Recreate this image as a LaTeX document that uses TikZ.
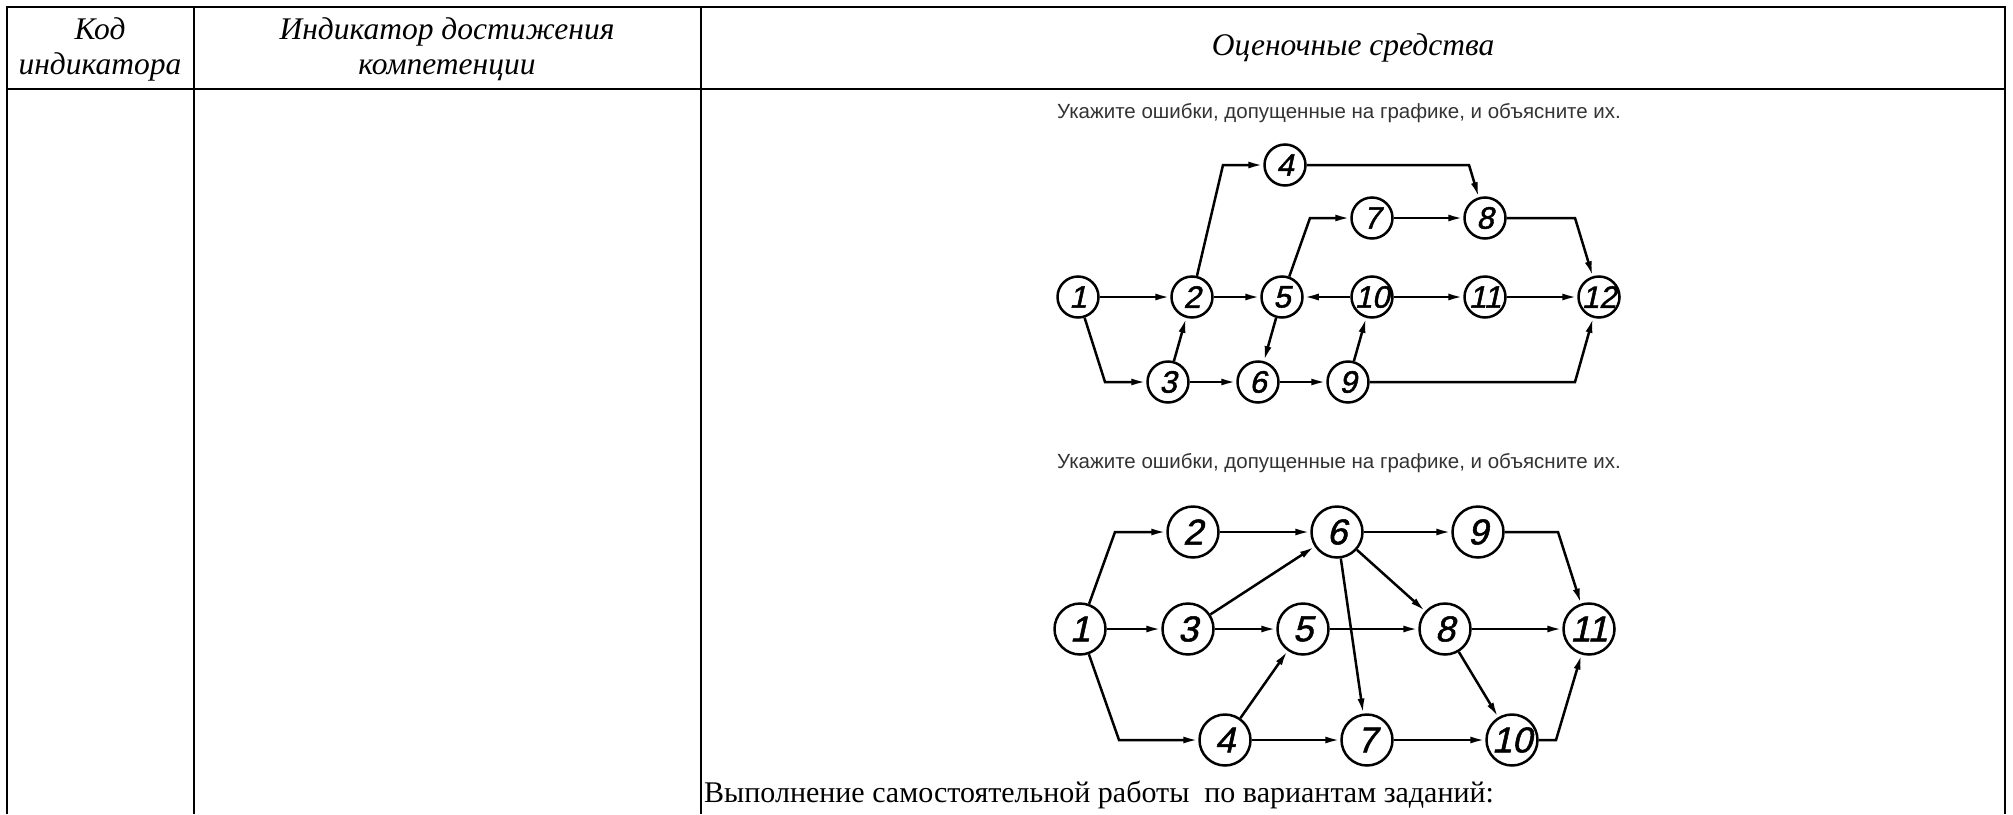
\documentclass[tikz,border=0pt]{standalone}
\usepackage{fontspec}
\setmainfont{Liberation Serif}
\setsansfont{Liberation Sans}
\newfontfamily\gostfont[FakeSlant=0.22,FakeBold=1.5]{Liberation Sans}
\usetikzlibrary{arrows.meta}

\begin{document}
\begin{tikzpicture}[x=1pt,y=-1pt,
    >={Latex[length=15pt,width=7pt]},
    grid/.style={line width=2.4pt,line join=miter},
    hdr/.style={font=\itshape\fontsize{31.5}{35}\selectfont,align=center},
    task/.style={font=\sffamily\fontsize{20.5}{20.5}\selectfont,text=black!80},
    ev/.style={draw,circle,line width=2.5pt,inner sep=0pt,minimum size=41pt,
      font=\gostfont\fontsize{31}{31}\selectfont},
    evb/.style={ev,minimum size=51pt,font=\gostfont\fontsize{36}{36}\selectfont},
    act/.style={->,line width=2.5pt}]
    \useasboundingbox (0,0) rectangle (2013,814);
    % table
    \draw[grid] (7,814) -- (7,7) -- (2005,7) -- (2005,814);
    \draw[grid] (7,89) -- (2005,89);
    \draw[grid] (194,7) -- (194,814); \draw[grid] (701,7) -- (701,814);
    \node[hdr] (kod) at (100,49) {Код\\индикатора};
    \node[hdr] (ind) at (447,49) {Индикатор достижения\\компетенции};
    \node[hdr] (ocs) at (1353,48) {Оценочные средства};
    % first network
    \node[task] (taskA) at (1339,113) {Укажите ошибки, допущенные на графике, и объясните их.};
    \node[ev] (a1) at (1078,297) {1}; \node[ev] (a2) at (1192,297) {2};
    \node[ev] (a5) at (1282,297) {5}; \node[ev] (a10) at (1372,297) {10};
    \node[ev] (a11) at (1485,297) {11}; \node[ev] (a12) at (1599,297) {12};
    \node[ev] (a4) at (1285,165) {4}; \node[ev] (a7) at (1372,218) {7};
    \node[ev] (a8) at (1485,218) {8}; \node[ev] (a3) at (1168,382) {3};
    \node[ev] (a6) at (1258,382) {6}; \node[ev] (a9) at (1348,382) {9};
    \coordinate (ka13) at (1105,382); \coordinate (ka24) at (1223,165);
    \coordinate (ka57) at (1310,218); \coordinate (ka48) at (1469,165);
    \coordinate (ka812) at (1575,218); \coordinate (ka912) at (1575,382);
    \draw[act] (a1) -- (a2); \draw[act] (a2) -- (a5);
    \draw[act] (a10) -- (a5); \draw[act] (a10) -- (a11);
    \draw[act] (a11) -- (a12); \draw[act] (a7) -- (a8);
    \draw[act] (a3) -- (a6); \draw[act] (a6) -- (a9);
    \draw[act] (a3) -- (a2); \draw[act] (a5) -- (a6);
    \draw[act] (a9) -- (a10);
    \draw[act] (a1) -- (ka13) -- (a3); \draw[act] (a2) -- (ka24) -- (a4);
    \draw[act] (a5) -- (ka57) -- (a7); \draw[act] (a4) -- (ka48) -- (a8);
    \draw[act] (a8) -- (ka812) -- (a12); \draw[act] (a9) -- (ka912) -- (a12);
    % second network
    \node[task] (taskB) at (1339,463) {Укажите ошибки, допущенные на графике, и объясните их.};
    \node[evb] (b1) at (1080,629) {1}; \node[evb] (b3) at (1188,629) {3};
    \node[evb] (b5) at (1303,629) {5}; \node[evb] (b8) at (1445,629) {8};
    \node[evb] (b11) at (1589,629) {11}; \node[evb] (b2) at (1193,532) {2};
    \node[evb] (b6) at (1337,532) {6}; \node[evb] (b9) at (1478,532) {9};
    \node[evb] (b4) at (1225,740) {4}; \node[evb] (b7) at (1367,740) {7};
    \node[evb] (b10) at (1512,740) {10};
    \coordinate (kb12) at (1115,532); \coordinate (kb14) at (1119,740);
    \coordinate (kb911) at (1558,532); \coordinate (kb1011) at (1556,740);
    \draw[act] (b1) -- (kb12) -- (b2); \draw[act] (b1) -- (b3);
    \draw[act] (b1) -- (kb14) -- (b4);
    \draw[act] (b2) -- (b6); \draw[act] (b3) -- (b6); \draw[act] (b3) -- (b5);
    \draw[act] (b4) -- (b5); \draw[act] (b4) -- (b7); \draw[act] (b5) -- (b8);
    \draw[act] (b6) -- (b9); \draw[act] (b6) -- (b8); \draw[act] (b6) -- (b7);
    \draw[act] (b7) -- (b10); \draw[act] (b8) -- (b10); \draw[act] (b8) -- (b11);
    \draw[act] (b9) -- (kb911) -- (b11); \draw[act] (b10) -- (kb1011) -- (b11);
    \node[anchor=base west,inner sep=0pt,font=\fontsize{30}{30}\selectfont] (vyp)
      at (704,802) {Выполнение самостоятельной работы~ по вариантам заданий:};
\end{tikzpicture}
\end{document}
